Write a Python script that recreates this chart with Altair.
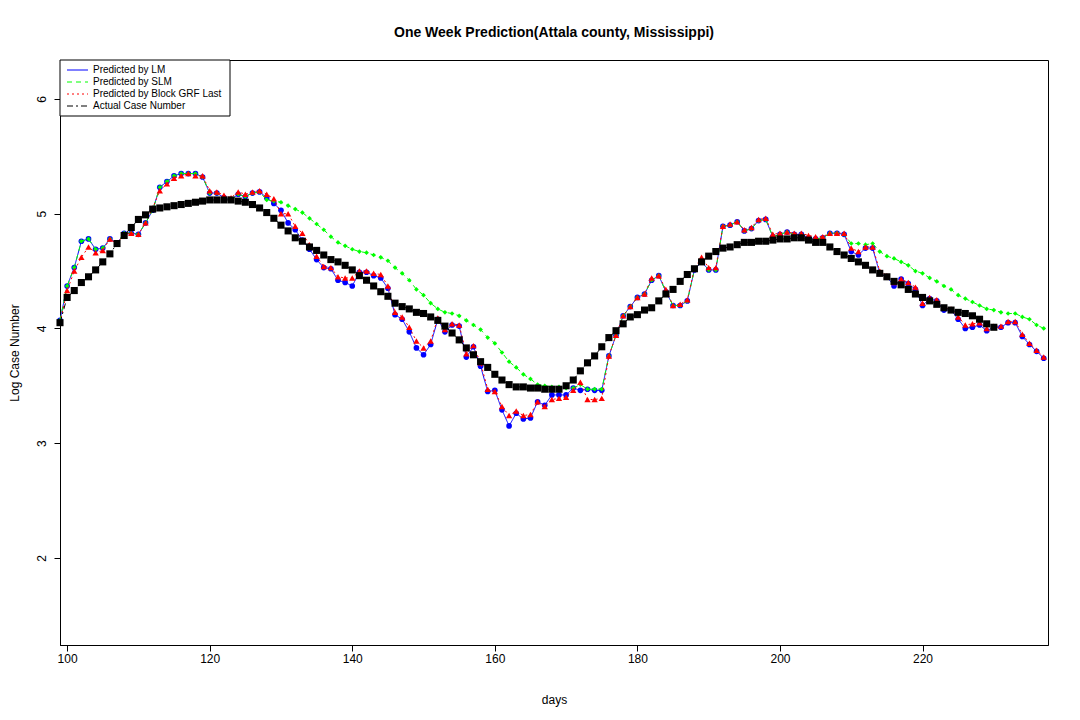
import altair as alt
import pandas as pd

days = list(range(99, 238))

lm = [4.07, 4.37, 4.53, 4.76, 4.78, 4.69, 4.70, 4.78, 4.74, 4.83, 4.83, 4.82, 4.92, 5.03, 5.23, 5.28, 5.33, 5.35, 5.35, 5.35,
      5.32, 5.18, 5.18, 5.14, 5.12, 5.17, 5.15, 5.18, 5.19, 5.14, 5.09, 5.03, 4.92, 4.86, 4.77, 4.69, 4.60, 4.53, 4.52, 4.42,
      4.40, 4.37, 4.49, 4.49, 4.46, 4.44, 4.35, 4.12, 4.08, 3.97, 3.83, 3.77, 3.86, 4.08, 3.97, 4.03, 4.02, 3.75, 3.84, 3.67,
      3.45, 3.46, 3.29, 3.15, 3.26, 3.21, 3.22, 3.36, 3.33, 3.42, 3.42, 3.42, 3.48, 3.46, 3.47, 3.46, 3.46, 3.76, 3.94, 4.11,
      4.19, 4.27, 4.30, 4.42, 4.46, 4.32, 4.20, 4.20, 4.24, 4.51, 4.58, 4.51, 4.51, 4.89, 4.90, 4.93, 4.85, 4.87, 4.94, 4.95,
      4.80, 4.82, 4.84, 4.82, 4.82, 4.79, 4.78, 4.79, 4.83, 4.83, 4.82, 4.67, 4.64, 4.70, 4.70, 4.48, 4.45, 4.37, 4.43, 4.39,
      4.34, 4.20, 4.26, 4.24, 4.16, 4.16, 4.08, 4.00, 4.01, 4.03, 3.98, 4.01, 4.01, 4.05, 4.05, 3.93, 3.86, 3.80, 3.74]

slm = [4.07, 4.37, 4.53, 4.76, 4.78, 4.69, 4.70, 4.78, 4.74, 4.83, 4.83, 4.82, 4.92, 5.03, 5.23, 5.28, 5.33, 5.35, 5.35, 5.35,
       5.32, 5.18, 5.18, 5.14, 5.12, 5.17, 5.15, 5.18, 5.19, 5.12, 5.11, 5.10, 5.07, 5.04, 5.01, 4.96, 4.91, 4.86, 4.80, 4.75,
       4.72, 4.69, 4.67, 4.66, 4.64, 4.62, 4.59, 4.53, 4.48, 4.42, 4.34, 4.29, 4.22, 4.17, 4.14, 4.13, 4.11, 4.07, 4.03, 3.99,
       3.92, 3.87, 3.79, 3.71, 3.66, 3.60, 3.56, 3.51, 3.50, 3.49, 3.49, 3.48, 3.48, 3.51, 3.47, 3.47, 3.47, 3.76, 3.94, 4.11,
       4.19, 4.27, 4.30, 4.42, 4.46, 4.32, 4.20, 4.20, 4.24, 4.51, 4.58, 4.51, 4.51, 4.89, 4.90, 4.93, 4.85, 4.87, 4.94, 4.95,
       4.80, 4.82, 4.84, 4.82, 4.82, 4.79, 4.78, 4.79, 4.83, 4.83, 4.82, 4.74, 4.74, 4.73, 4.74, 4.67, 4.63, 4.61, 4.58, 4.55,
       4.50, 4.48, 4.44, 4.41, 4.37, 4.34, 4.29, 4.26, 4.23, 4.20, 4.17, 4.16, 4.14, 4.13, 4.13, 4.10, 4.08, 4.03, 4.00]

grf = [4.05, 4.33, 4.50, 4.62, 4.71, 4.66, 4.68, 4.78, 4.74, 4.82, 4.83, 4.82, 4.92, 5.05, 5.20, 5.26, 5.31, 5.33, 5.35, 5.33,
       5.33, 5.20, 5.19, 5.16, 5.14, 5.19, 5.17, 5.19, 5.20, 5.17, 5.13, 5.00, 5.00, 4.89, 4.83, 4.73, 4.63, 4.54, 4.53, 4.45,
       4.44, 4.44, 4.50, 4.50, 4.48, 4.47, 4.37, 4.14, 4.10, 4.01, 3.89, 3.83, 3.89, 4.09, 3.99, 4.04, 4.03, 3.78, 3.85, 3.70,
       3.47, 3.45, 3.32, 3.24, 3.28, 3.24, 3.25, 3.36, 3.32, 3.38, 3.39, 3.40, 3.46, 3.53, 3.38, 3.38, 3.39, 3.76, 3.94, 4.11,
       4.19, 4.27, 4.30, 4.44, 4.46, 4.34, 4.20, 4.21, 4.25, 4.52, 4.62, 4.53, 4.53, 4.89, 4.91, 4.93, 4.86, 4.88, 4.95, 4.96,
       4.82, 4.83, 4.84, 4.83, 4.83, 4.81, 4.80, 4.80, 4.83, 4.83, 4.83, 4.70, 4.67, 4.71, 4.71, 4.50, 4.46, 4.40, 4.43, 4.40,
       4.36, 4.22, 4.27, 4.25, 4.18, 4.17, 4.10, 4.03, 4.04, 4.05, 4.00, 4.02, 4.02, 4.06, 4.06, 3.95, 3.87, 3.81, 3.75]

actual_days = list(range(99, 231))
actual = [4.05, 4.27, 4.33, 4.40, 4.45, 4.51, 4.58, 4.65, 4.74, 4.81, 4.88, 4.95, 4.99, 5.04, 5.05, 5.06, 5.07, 5.08, 5.09, 5.10,
          5.11, 5.12, 5.12, 5.12, 5.12, 5.11, 5.10, 5.08, 5.05, 5.01, 4.96, 4.90, 4.85, 4.79, 4.76, 4.71, 4.68, 4.64, 4.60, 4.58,
          4.55, 4.51, 4.46, 4.42, 4.37, 4.32, 4.28, 4.22, 4.19, 4.17, 4.14, 4.13, 4.10, 4.07, 4.02, 3.96, 3.90, 3.83, 3.77, 3.71,
          3.66, 3.60, 3.55, 3.51, 3.49, 3.49, 3.48, 3.48, 3.47, 3.47, 3.47, 3.50, 3.55, 3.63, 3.70, 3.76, 3.84, 3.92, 3.98, 4.04,
          4.10, 4.12, 4.16, 4.18, 4.24, 4.30, 4.34, 4.41, 4.47, 4.52, 4.58, 4.63, 4.67, 4.70, 4.71, 4.73, 4.75, 4.75, 4.76, 4.76,
          4.77, 4.78, 4.78, 4.79, 4.79, 4.77, 4.75, 4.75, 4.71, 4.67, 4.64, 4.61, 4.58, 4.55, 4.51, 4.48, 4.45, 4.41, 4.38, 4.34,
          4.30, 4.27, 4.24, 4.21, 4.18, 4.16, 4.14, 4.13, 4.11, 4.08, 4.04, 4.01]

legend_labels = ["Predicted by LM", "Predicted by SLM", "Predicted by Block GRF Last", "Actual Case Number"]
legend_colors = ["#0000ff", "#00ff00", "#ff0000", "#000000"]
legend_dash = [[1, 0], [5, 4], [2, 3], [6, 3, 2, 3]]

W, H = 988, 585
x_scale = alt.Scale(domain=[99, 237.6], nice=False, zero=False)
y_scale = alt.Scale(domain=[1.24, 6.34], nice=False, zero=False)
x_enc = alt.X("day:Q", scale=x_scale, title="days",
              axis=alt.Axis(values=[100, 120, 140, 160, 180, 200, 220], grid=False, titlePadding=30))
y_enc = alt.Y("value:Q", scale=y_scale, title="Log Case Number",
              axis=alt.Axis(values=[2, 3, 4, 5, 6], grid=False, labelAngle=270, labelAlign="center",
                            labelBaseline="bottom", labelPadding=6, titlePadding=14))


def series(d, v, color, dash, shape, size, width=1):
    n = min(len(d), len(v))
    df = pd.DataFrame({"day": d[:n], "value": v[:n]})
    base = alt.Chart(df).encode(x=x_enc, y=y_enc)
    line = base.mark_line(color=color, strokeDash=dash, strokeWidth=width)
    pts = base.mark_point(shape=shape, filled=True, color=color, size=size, opacity=1)
    return line + pts


layers = [
    series(days, lm, "#0000ff", [1, 0], "circle", 32),
    series(days, slm, "#00ff00", [5, 4], "diamond", 22),
    series(days, grf, "#ff0000", [2, 3], "triangle-up", 40),
    series(actual_days, actual, "#000000", [6, 3, 2, 3], "square", 50),
]

box = alt.Chart(pd.DataFrame({"a": [0]})).mark_rect(fill="white", stroke="black", strokeWidth=1).encode(
    x=alt.value(0), x2=alt.value(170), y=alt.value(0), y2=alt.value(56))
layers.append(box)
for i, (lab, col, dash) in enumerate(zip(legend_labels, legend_colors, legend_dash)):
    row = alt.Chart(pd.DataFrame({"label": [lab]}))
    yy = 10 + i * 12
    layers.append(row.mark_rule(color=col, strokeDash=dash, strokeWidth=1).encode(
        x=alt.value(7), x2=alt.value(28), y=alt.value(yy)))
    layers.append(row.mark_text(align="left", baseline="middle", fontSize=10, font="Liberation Sans").encode(
        x=alt.value(33), y=alt.value(yy), text="label:N"))

chart = alt.layer(*layers).properties(
    width=W, height=H,
    autosize="none",
    padding={"left": 52, "top": 52, "right": 24, "bottom": 67},
    title=alt.TitleParams("One Week Prediction(Attala county, Mississippi)", fontSize=14, fontWeight="bold",
                          font="Liberation Sans", offset=20, anchor="middle"),
).configure_view(stroke="black", strokeWidth=1).configure_axis(
    labelFont="Liberation Sans", titleFont="Liberation Sans", labelFontSize=12, titleFontSize=12,
    titleFontWeight="normal", domainColor="black", tickColor="black", labelColor="black", titleColor="black",
    tickSize=6,
)

chart.save("out.html", embed_options={"renderer": "svg", "actions": False})
